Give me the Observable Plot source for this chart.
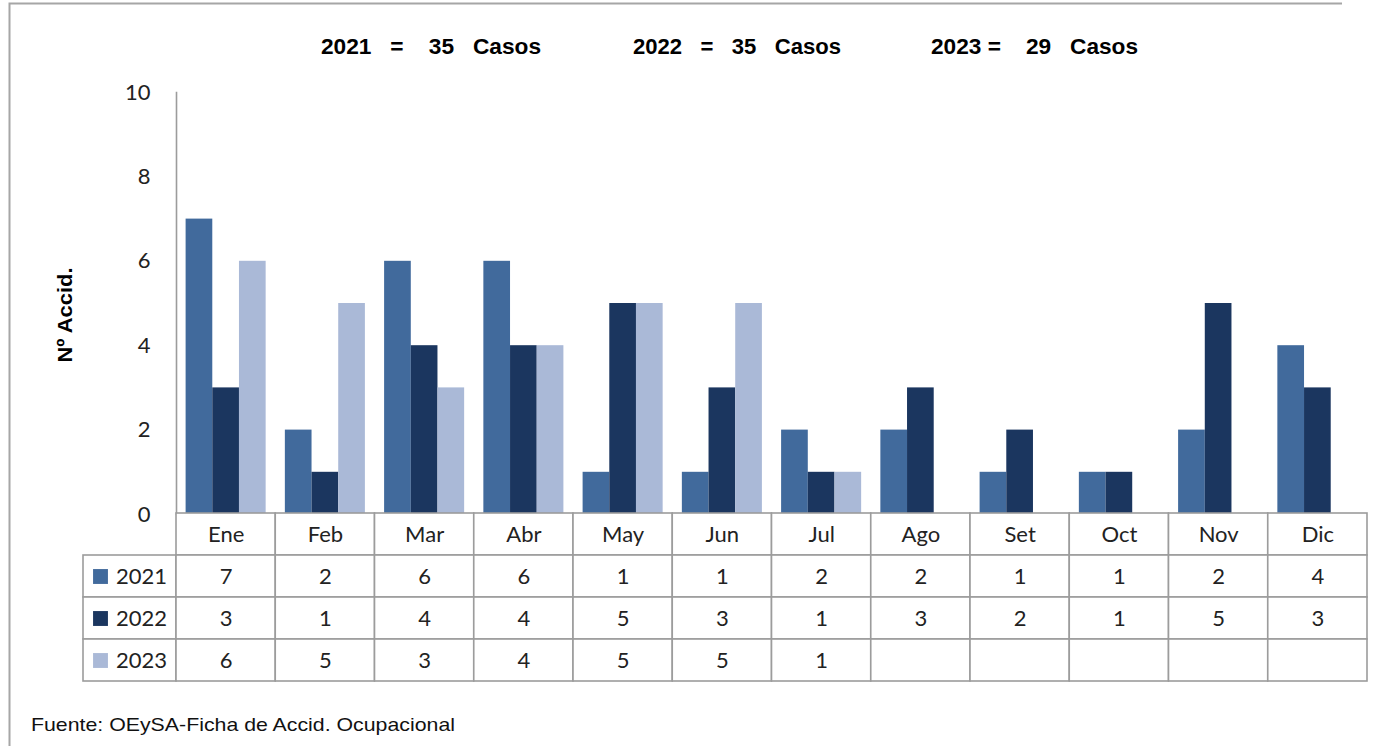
<!DOCTYPE html>
<html><head><meta charset="utf-8">
<script src="https://cdn.jsdelivr.net/npm/d3@7"></script>
<script src="https://cdn.jsdelivr.net/npm/@observablehq/plot@0.6"></script>
<style>
body{margin:0;background:#fff;}
#wrap{position:relative;width:1379px;height:746px;overflow:hidden;background:#fff;}
#wrap > svg{position:absolute;left:0;}
</style></head><body><div id="wrap"></div>
<script>
// ---- data ----
const months = ["Ene","Feb","Mar","Abr","May","Jun","Jul","Ago","Set","Oct","Nov","Dic"];
const years = ["2021","2022","2023"];
const v2021 = [7,2,6,6,1,1,2,2,1,1,2,4];
const v2022 = [3,1,4,4,5,3,1,3,2,1,5,3];
const v2023 = [6,5,3,4,5,5,1,null,null,null,null,null];
const yearColors = ["#416A9C","#1B365F","#AAB9D7"];
const yTicks = [0,2,4,6,8,10];
const titleParts = ["2021   =    35   Casos", "2022   =   35   Casos", "2023 =    29   Casos"];
const yLabel = "Nº Accid.";
const caption = "Fuente: OEySA-Ficha de Accid. Ocupacional";

const series = [v2021, v2022, v2023];
const rows = years.flatMap((y, i) => months.map((m, j) => ({month: m, year: y, value: series[i][j]})));
const present = rows.filter(d => d.value != null);

const wrap = document.getElementById("wrap");
const W = 1379, mL = 176, mR = 12;
const font = "Lato, 'Open Sans', sans-serif";
const grid = "#9c9c9c";

// ---- bar chart ----
const bars = Plot.plot({
  width: W, height: 530, marginTop: 92, marginBottom: 16, marginLeft: mL, marginRight: mR,
  style: {fontFamily: font, fontSize: "22px", color: "#222", background: "transparent", overflow: "visible"},
  fx: {domain: months, padding: 0, round: false, axis: null, label: null},
  x: {domain: years, paddingInner: 0, paddingOuter: 0.36, round: false, axis: null},
  y: {domain: [0, 10]},
  color: {domain: years, range: yearColors},
  marks: [
    Plot.barY(present, {fx: "month", x: "year", y: "value", fill: "year", inset: 0}),
    Plot.axisY({ticks: yTicks, tickSize: 0, tickPadding: 26, label: null, fontSize: 22, fill: "#222"}),
    Plot.frame({anchor: "left", facetAnchor: "left", stroke: grid, strokeWidth: 1.6})
  ]
});
bars.style.top = "0px";
wrap.appendChild(bars);

// ---- data table ----
const tbl = Plot.plot({
  width: W, height: 200, marginTop: 23, marginBottom: 9, marginLeft: mL, marginRight: mR,
  style: {fontFamily: font, fontSize: "22px", color: "#222", background: "transparent", overflow: "visible"},
  x: {domain: months, padding: 0, round: false, axis: null},
  y: {domain: ["mes", ...years], padding: 0, round: false, axis: null},
  color: {domain: years, range: yearColors},
  marks: [
    Plot.cell(years, {y: d => d, insetLeft: -(mL - 83), insetRight: W - mL - mR, fill: "white", stroke: grid, strokeWidth: 1.6}),
    Plot.cell(months.map(m => ({month: m, row: "mes"})), {x: "month", y: "row", inset: 0, fill: "white", stroke: grid, strokeWidth: 1.6}),
    Plot.cell(rows, {x: "month", y: "year", inset: 0, fill: "white", stroke: grid, strokeWidth: 1.6}),
    Plot.text(months, {x: d => d, y: () => "mes", text: d => d, fontSize: 22, fill: "#222"}),
    Plot.text(present, {x: "month", y: "year", text: d => String(d.value), fontSize: 22, fill: "#222"}),
    Plot.text(years, {y: d => d, frameAnchor: "left", textAnchor: "middle", dx: -35, text: d => d, fontSize: 22, fill: "#222"}),
    Plot.dot(years, {y: d => d, frameAnchor: "left", dx: -76, symbol: "square", r: 8.4, fill: d => d, stroke: null})
  ]
});
tbl.style.top = "490px";
wrap.appendChild(tbl);

// ---- frame, title, axis label, caption ----
const ov = d3.select(wrap).append("svg")
  .attr("width", W).attr("height", 746).style("top", "0px").style("pointer-events", "none");
ov.append("path").attr("d", "M9.5,746V3.5H1342").attr("fill", "none").attr("stroke", "#a6a6a6").attr("stroke-width", 2);

const tx = [321, 633, 931], tl = [220, 208, 207];
titleParts.forEach((t, i) => {
  ov.append("text").attr("x", tx[i]).attr("y", 54)
    .attr("textLength", tl[i]).attr("lengthAdjust", "spacingAndGlyphs")
    .style("white-space", "pre")
    .attr("font-family", "Arial, 'Liberation Sans', sans-serif").attr("font-weight", "bold").attr("font-size", 22)
    .attr("fill", "#000").text(t);
});
ov.append("text").attr("transform", "translate(72,315) rotate(-90)").attr("text-anchor", "middle")
  .attr("textLength", 95).attr("lengthAdjust", "spacingAndGlyphs")
  .attr("font-family", "Arial, 'Liberation Sans', sans-serif").attr("font-weight", "bold").attr("font-size", 21)
  .attr("fill", "#000").text(yLabel);
ov.append("text").attr("x", 31).attr("y", 731)
  .attr("textLength", 424).attr("lengthAdjust", "spacingAndGlyphs")
  .attr("font-family", "Arial, 'Liberation Sans', sans-serif").attr("font-size", 19)
  .attr("fill", "#111").text(caption);
</script>
</body></html>
